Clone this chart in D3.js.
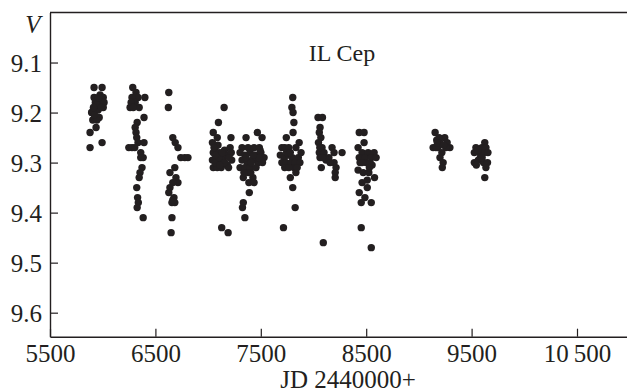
<!DOCTYPE html>
<html><head><meta charset="utf-8">
<script src="https://cdn.jsdelivr.net/npm/d3@7"></script>
<style>
html,body{margin:0;padding:0;background:#fff;}
svg{display:block;}
text{font-family:"Liberation Serif","Times New Roman",serif;fill:#231f20;}
</style></head>
<body>
<svg id="chart" width="627" height="392"></svg>
<script>
// Observing seasons: [JD-2440000, V]
const season1 = [[5880,9.24],[5880,9.27],[5918,9.15],[5994,9.15],[5899,9.20],[5937,9.19],[5918,9.17],[5956,9.175],[5975,9.165],[6005,9.17],[6005,9.19],[5967,9.21],[5937,9.23],[5906,9.215],[5895,9.20],[5983,9.18],[5956,9.195],[5994,9.175],[5994,9.26],[5945,9.215],[5930,9.18],[6013,9.18],[5960,9.17],[5922,9.205],[5948,9.185],[5985,9.19],[5912,9.19]];
const season2 = [[6285,9.15],[6260,9.19],[6297,9.175],[6316,9.16],[6335,9.17],[6278,9.17],[6346,9.19],[6400,9.17],[6308,9.18],[6327,9.22],[6308,9.23],[6316,9.24],[6323,9.25],[6248,9.27],[6278,9.27],[6335,9.26],[6392,9.26],[6392,9.21],[6361,9.28],[6384,9.29],[6373,9.31],[6354,9.32],[6346,9.33],[6323,9.35],[6331,9.37],[6338,9.38],[6327,9.39],[6384,9.41],[6361,9.29],[6304,9.27],[6270,9.18],[6290,9.19]];
const season3 = [[6627,9.16],[6623,9.19],[6665,9.25],[6688,9.26],[6714,9.27],[6741,9.29],[6779,9.29],[6809,9.29],[6638,9.32],[6684,9.31],[6695,9.33],[6714,9.34],[6665,9.34],[6638,9.35],[6627,9.36],[6676,9.37],[6657,9.38],[6684,9.38],[6657,9.41],[6649,9.44],[6665,9.375]];
const season4 = [[7049,9.24],[7098,9.22],[7152,9.19],[7217,9.25],[7041,9.26],[7068,9.27],[7049,9.28],[7041,9.295],[7049,9.31],[7087,9.25],[7094,9.265],[7106,9.28],[7079,9.29],[7117,9.295],[7125,9.31],[7087,9.31],[7144,9.29],[7156,9.275],[7182,9.305],[7182,9.285],[7209,9.27],[7220,9.28],[7224,9.295],[7194,9.31],[7056,9.27],[7068,9.30],[7106,9.29],[7129,9.43],[7190,9.44],[7156,9.30],[7070,9.285],[7110,9.305],[7200,9.29],[7135,9.28]];
const season5 = [[7360,9.25],[7512,9.25],[7467,9.24],[7322,9.27],[7379,9.27],[7436,9.27],[7486,9.27],[7303,9.28],[7349,9.285],[7398,9.28],[7448,9.285],[7501,9.28],[7531,9.29],[7322,9.295],[7372,9.30],[7417,9.295],[7474,9.30],[7516,9.30],[7303,9.31],[7349,9.31],[7398,9.31],[7455,9.31],[7334,9.33],[7379,9.32],[7425,9.33],[7387,9.34],[7436,9.34],[7391,9.36],[7334,9.38],[7326,9.39],[7349,9.41],[7493,9.275],[7360,9.29],[7459,9.29],[7410,9.30],[7340,9.32],[7405,9.32],[7480,9.29],[7430,9.285]];
const season6 = [[7803,9.17],[7795,9.19],[7806,9.20],[7814,9.22],[7806,9.24],[7742,9.25],[7864,9.26],[7700,9.27],[7727,9.27],[7765,9.27],[7833,9.27],[7685,9.285],[7723,9.29],[7761,9.285],[7799,9.29],[7856,9.29],[7882,9.28],[7700,9.30],[7738,9.30],[7788,9.30],[7826,9.30],[7871,9.30],[7727,9.31],[7814,9.31],[7833,9.32],[7780,9.33],[7803,9.35],[7826,9.39],[7715,9.43],[7765,9.31],[7745,9.28],[7780,9.28],[7845,9.31]];
const season7 = [[8043,9.21],[8085,9.21],[8062,9.23],[8055,9.24],[8070,9.25],[8047,9.26],[8081,9.27],[8055,9.28],[8100,9.28],[8062,9.29],[8074,9.31],[8119,9.295],[8146,9.29],[8176,9.27],[8271,9.28],[8195,9.28],[8195,9.30],[8214,9.31],[8206,9.32],[8206,9.33],[8093,9.46],[8157,9.30],[8108,9.29],[8060,9.27],[8085,9.29]];
const season8 = [[8434,9.24],[8480,9.24],[8480,9.26],[8423,9.27],[8461,9.28],[8518,9.28],[8575,9.28],[8434,9.29],[8488,9.29],[8548,9.29],[8594,9.29],[8442,9.30],[8499,9.30],[8556,9.305],[8423,9.315],[8472,9.32],[8525,9.32],[8579,9.33],[8461,9.34],[8510,9.335],[8510,9.35],[8434,9.36],[8488,9.37],[8453,9.38],[8548,9.38],[8453,9.43],[8548,9.47],[8537,9.30],[8460,9.30],[8530,9.31]];
const season9 = [[9154,9.24],[9135,9.27],[9169,9.255],[9200,9.26],[9245,9.25],[9268,9.26],[9294,9.27],[9180,9.27],[9218,9.28],[9161,9.27],[9200,9.29],[9230,9.30],[9222,9.31],[9192,9.25],[9256,9.27],[9175,9.26],[9235,9.265]];
const season10 = [[9625,9.26],[9541,9.27],[9598,9.27],[9636,9.27],[9526,9.28],[9575,9.28],[9617,9.28],[9655,9.28],[9526,9.30],[9564,9.295],[9613,9.30],[9651,9.30],[9545,9.305],[9636,9.31],[9625,9.33],[9583,9.29],[9560,9.275],[9600,9.29]];

const xTicks = [5500, 6500, 7500, 8500, 9500, 10500];
const xTickLabels = ["5500", "6500", "7500", "8500", "9500", "10\u2009500"];
const yTicks = [9.1, 9.2, 9.3, 9.4, 9.5, 9.6];
const yTickLabels = ["9.1", "9.2", "9.3", "9.4", "9.5", "9.6"];
const starName = "IL Cep";
const xTitle = "JD 2440000+";
const yTitle = "V";

const allPoints = [].concat(season1, season2, season3, season4, season5, season6, season7, season8, season9, season10);

const svg = d3.select("#chart");
const mLeft = 50, mRight = 629.7, mTop = 12.5, mBottom = 336.7;
const x = d3.scaleLinear().domain([5500, 11000]).range([mLeft, mRight]);
const y = d3.scaleLinear().domain([9.0, 9.648]).range([mTop, mBottom]);
const ink = "#231f20";
const fam = '"Liberation Serif","Times New Roman",serif';

// top frame line
svg.append("line").attr("x1", mLeft).attr("x2", 627).attr("y1", mTop).attr("y2", mTop)
  .attr("stroke", ink).attr("stroke-width", 1.4);

const xAxis = svg.append("g").attr("transform", `translate(0,${mBottom})`)
  .call(d3.axisBottom(x).tickValues(xTicks).tickSize(-8).tickSizeOuter(0).tickPadding(8)
    .tickFormat((d, i) => xTickLabels[i]));
const yAxis = svg.append("g").attr("transform", `translate(${mLeft},0)`)
  .call(d3.axisLeft(y).tickValues(yTicks).tickSize(-8).tickSizeOuter(0).tickPadding(8)
    .tickFormat((d, i) => yTickLabels[i]));
[xAxis, yAxis].forEach(g => {
  g.selectAll("path").attr("stroke", ink).attr("stroke-width", 1.4);
  g.selectAll("line").attr("stroke", ink).attr("stroke-width", 1.2);
  g.selectAll("text").attr("fill", ink).attr("font-size", 25).attr("font-family", fam);
});
yAxis.selectAll("text").attr("dy", "0.36em");

svg.append("g").selectAll("circle").data(allPoints).join("circle")
  .attr("cx", d => x(d[0])).attr("cy", d => y(d[1])).attr("r", 3.7).attr("fill", ink);

svg.append("text").attr("x", 342).attr("y", 61).attr("text-anchor", "middle")
  .attr("font-family", fam).attr("font-size", 24).text(starName);
svg.append("text").attr("x", 348).attr("y", 388).attr("text-anchor", "middle")
  .attr("font-family", fam).attr("font-size", 25).text(xTitle);
svg.append("text").attr("x", 33).attr("y", 33).attr("text-anchor", "middle")
  .attr("font-family", fam).attr("font-size", 25).attr("font-style", "italic").text(yTitle);
</script>
</body></html>
